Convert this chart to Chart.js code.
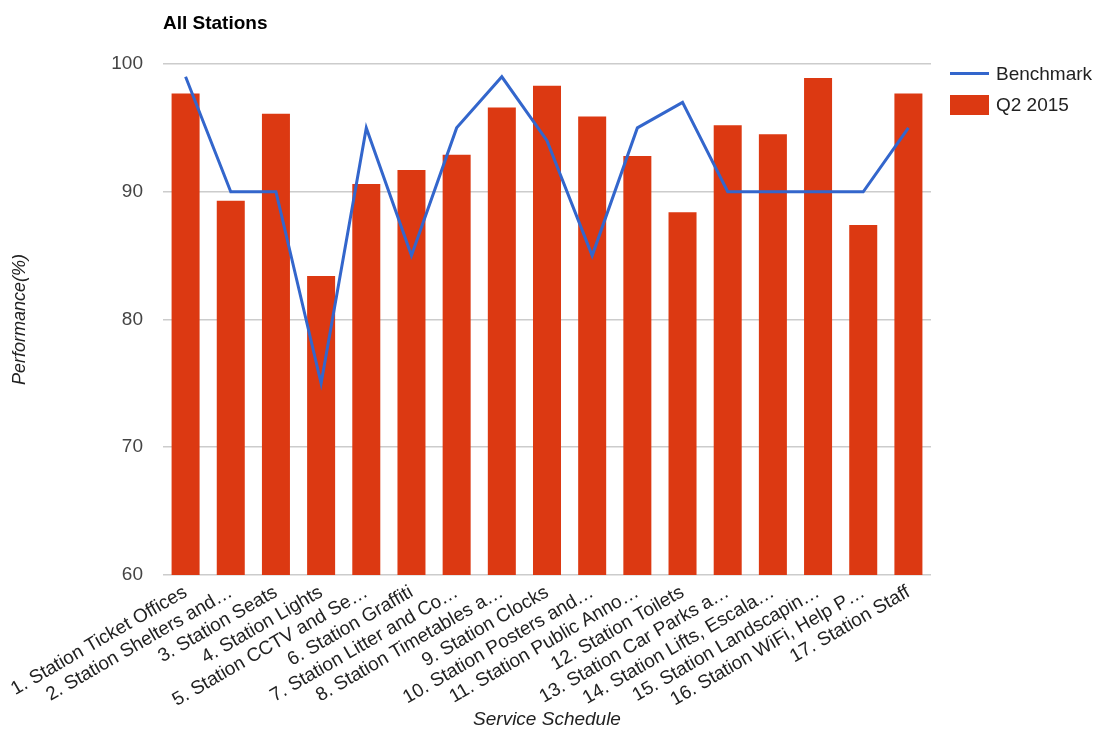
<!DOCTYPE html>
<html>
<head>
<meta charset="utf-8">
<title>All Stations</title>
<script src="https://cdn.jsdelivr.net/npm/chart.js@4/dist/chart.umd.min.js"></script>
<style>
  html, body { margin: 0; padding: 0; background: #ffffff; }
  canvas { display: block; }
</style>
</head>
<body>
<canvas id="chart" width="1096" height="731"></canvas>
<script>
// Service categories (as labelled on the axis)
const categories = [
  "1. Station Ticket Offices",
  "2. Station Shelters and\u2026",
  "3. Station Seats",
  "4. Station Lights",
  "5. Station CCTV and Se\u2026",
  "6. Station Graffiti",
  "7. Station Litter and Co\u2026",
  "8. Station Timetables a\u2026",
  "9. Station Clocks",
  "10. Station Posters and\u2026",
  "11. Station Public Anno\u2026",
  "12. Station Toilets",
  "13. Station Car Parks a\u2026",
  "14. Station Lifts, Escala\u2026",
  "15. Station Landscapin\u2026",
  "16. Station WiFi, Help P\u2026",
  "17. Station Staff"
];

// Benchmark targets (%)
const benchmark = [99, 90, 90, 75, 95, 85, 95, 99, 94, 85, 95, 97, 90, 90, 90, 90, 95];

// Q2 2015 measured performance (%)
const q2_2015 = [97.7, 89.3, 96.1, 83.4, 90.6, 91.7, 92.9, 96.6, 98.3, 95.9, 92.8, 88.4, 95.2, 94.5, 98.9, 87.4, 97.7];

// Value axis ticks
const yTicks = [60, 70, 80, 90, 100];

const FONT = '"Liberation Sans", Arial, Helvetica, sans-serif';
const BLUE = '#3366cc';
const RED = '#dc3912';

// Chart heading and right-hand legend
const headerAndLegend = {
  id: 'headerAndLegend',
  afterDraw(chart) {
    const ctx = chart.ctx;
    const area = chart.chartArea;
    ctx.save();
    ctx.textAlign = 'left';
    ctx.textBaseline = 'alphabetic';
    ctx.fillStyle = '#000000';
    ctx.font = 'bold 19px ' + FONT;
    ctx.fillText('All Stations', area.left, 29);

    const lx = area.right + 19;
    const sw = 39;
    const rowH = 31;
    const datasets = chart.data.datasets;
    datasets.forEach((ds, i) => {
      const cy = 73 + i * rowH;
      if (ds.type === 'line') {
        ctx.strokeStyle = ds.borderColor;
        ctx.lineWidth = 3;
        ctx.beginPath();
        ctx.moveTo(lx, cy + 0.5);
        ctx.lineTo(lx + sw, cy + 0.5);
        ctx.stroke();
      } else {
        ctx.fillStyle = ds.backgroundColor;
        ctx.fillRect(lx, cy - 9, sw, 20);
      }
      ctx.fillStyle = '#222222';
      ctx.font = '19px ' + FONT;
      ctx.fillText(ds.label, lx + sw + 7, cy + 7);
    });
    ctx.restore();
  }
};

new Chart(document.getElementById('chart'), {
  data: {
    labels: categories,
    datasets: [
      {
        type: 'line',
        label: 'Benchmark',
        data: benchmark,
        borderColor: BLUE,
        backgroundColor: BLUE,
        borderWidth: 3,
        pointRadius: 0,
        pointHoverRadius: 0,
        tension: 0,
        fill: false,
        order: 0
      },
      {
        type: 'bar',
        label: 'Q2 2015',
        data: q2_2015,
        backgroundColor: RED,
        borderWidth: 0,
        categoryPercentage: 1,
        barPercentage: 0.62,
        order: 1
      }
    ]
  },
  options: {
    responsive: false,
    animation: false,
    devicePixelRatio: 1,
    layout: { padding: { top: 64, right: 165, bottom: 0, left: 0 } },
    plugins: {
      legend: { display: false },
      title: { display: false },
      tooltip: { enabled: false }
    },
    scales: {
      x: {
        type: 'category',
        grid: { display: false, drawTicks: false },
        border: { display: false },
        ticks: {
          autoSkip: false,
          maxRotation: 30,
          minRotation: 30,
          padding: 6,
          color: '#222222',
          font: { family: FONT, size: 19 }
        },
        title: {
          display: true,
          text: 'Service Schedule',
          color: '#222222',
          font: { family: FONT, size: 19, style: 'italic' },
          padding: { top: 0, bottom: 0 }
        },
        afterFit(scale) { scale.height = 156; }
      },
      y: {
        type: 'linear',
        min: yTicks[0],
        max: yTicks[yTicks.length - 1],
        afterBuildTicks(scale) { scale.ticks = yTicks.map(v => ({ value: v })); },
        grid: { color: '#cccccc', lineWidth: 1.6, drawTicks: false },
        border: { display: false },
        ticks: {
          padding: 20,
          color: '#444444',
          font: { family: FONT, size: 19 }
        },
        title: {
          display: true,
          text: 'Performance(%)',
          color: '#222222',
          font: { family: FONT, size: 18, style: 'italic' },
          padding: { top: 9, bottom: 0 }
        },
        afterFit(scale) { scale.width = 163; }
      }
    }
  },
  plugins: [headerAndLegend]
});
</script>
</body>
</html>
